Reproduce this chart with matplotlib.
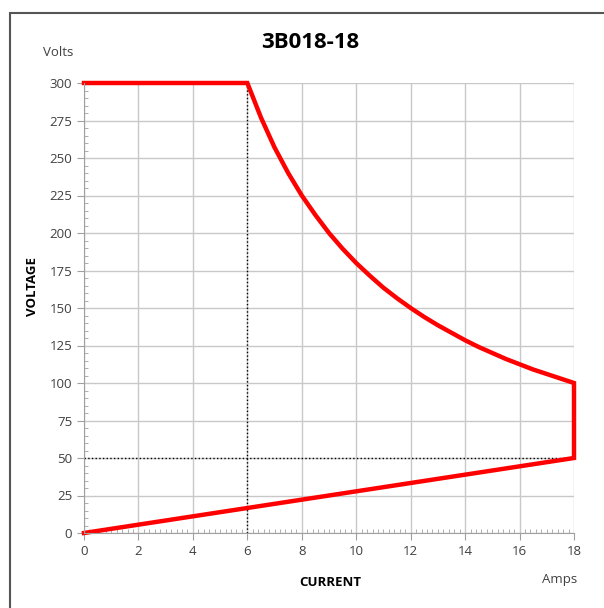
import matplotlib
matplotlib.use("Agg")
import matplotlib.pyplot as plt
from matplotlib.patches import Rectangle
from matplotlib.ticker import MultipleLocator

plt.rcParams['font.family'] = ['Open Sans', 'DejaVu Sans']

# power limit curve of 3B018-18
current = [0, 6, 6.5, 7, 7.5, 8, 8.5, 9, 9.5, 10, 10.5, 11, 11.5, 12, 12.5, 13,
           13.5, 14, 14.5, 15, 15.5, 16, 16.5, 17, 17.5, 18, 18, 0]
voltage = [300, 300, 277, 257, 240, 225, 212, 200, 189.5, 180, 171.5, 163.5, 156.5,
           150, 144, 138.5, 133.5, 128.5, 124, 120, 116, 112.5, 109, 106, 103, 100,
           50, 0]

corner_amps = 6
corner_volts = 50
x_ticks = [0, 2, 4, 6, 8, 10, 12, 14, 16, 18]
y_ticks = [0, 25, 50, 75, 100, 125, 150, 175, 200, 225, 250, 275, 300]

fig = plt.figure(figsize=(6.04, 6.08), dpi=100)
fig.patches.append(Rectangle((10 / 604, -0.1), 1.2, 1 - 13 / 608 + 0.1,
                             transform=fig.transFigure, fill=False,
                             edgecolor='#555555', lw=1.5))

ax = fig.add_axes([84 / 604, 1 - 533 / 608, 490 / 604, 450 / 608])
ax.set_xlim(0, 18)
ax.set_ylim(0, 300)
ax.set_xticks(x_ticks)
ax.set_yticks(y_ticks)
ax.xaxis.set_minor_locator(MultipleLocator(0.2))
ax.yaxis.set_minor_locator(MultipleLocator(5))
ax.grid(True, which='major', color='#c8c8c8', lw=1)
ax.set_axisbelow(True)

for s in ['top', 'right']:
    ax.spines[s].set_visible(False)
for s in ['left', 'bottom']:
    ax.spines[s].set_color('#a0a0a0')

ax.tick_params(which='major', direction='out', length=5, color='#a0a0a0',
               labelsize=9.5, labelcolor='#404040')
ax.tick_params(which='minor', direction='in', length=3, color='#a0a0a0')

ax.plot([corner_amps, corner_amps], [0, 300], color='black', lw=1, ls=':')
ax.plot([0, 18], [corner_volts, corner_volts], color='black', lw=1, ls=':')
ax.plot(current, voltage, color='red', lw=3.2, solid_joinstyle='miter', clip_on=False)

fig.text(310 / 604, 1 - 42 / 608, '3B018-18', ha='center', va='center',
         fontsize=16, fontweight='bold')
fig.text(58 / 604, 1 - 52 / 608, 'Volts', ha='center', va='center', fontsize=9.5,
         color='#404040')
fig.text(33 / 604, 1 - 287 / 608, 'VOLTAGE', ha='center', va='center',
         rotation=90, fontsize=9.5, fontweight='bold')
fig.text(330 / 604, 1 - 583 / 608, 'CURRENT', ha='center', va='center',
         fontsize=9.5, fontweight='bold')
fig.text(560 / 604, 1 - 580 / 608, 'Amps', ha='center', va='center', fontsize=9.5,
         color='#404040')

fig.savefig('out.png', dpi=100)
